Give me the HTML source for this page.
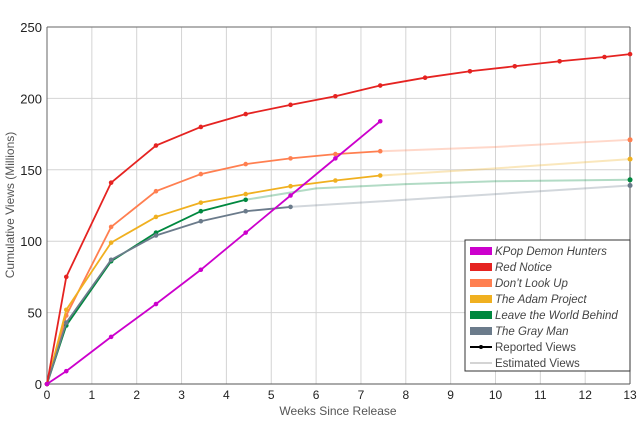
<!DOCTYPE html>
<html><head><meta charset="utf-8"><style>
body{margin:0;background:#fff;width:640px;height:420px;overflow:hidden}
svg{font-family:"Liberation Sans",sans-serif}
</style></head><body>
<svg id="s" width="640" height="420" xmlns="http://www.w3.org/2000/svg"></svg>
<script>
const s=document.getElementById('s');
const X=v=>47+v*44.85, Y=v=>384-v*1.428;
let h='';
for(let i=1;i<=12;i++)h+=`<line x1="${X(i)}" y1="27" x2="${X(i)}" y2="384" stroke="#d4d4d4" stroke-width="1"/>`;
for(let v=50;v<=200;v+=50)h+=`<line x1="47" y1="${Y(v)}" x2="630" y2="${Y(v)}" stroke="#d4d4d4" stroke-width="1"/>`;
h+=`<line x1="47" y1="27" x2="630" y2="27" stroke="#666"/><line x1="47" y1="27" x2="47" y2="384" stroke="#666"/><line x1="630" y1="27" x2="630" y2="384" stroke="#555"/><line x1="47" y1="384" x2="630" y2="384" stroke="#555"/>`;
for(let v=0;v<=250;v+=50)h+=`<text x="42" y="${Y(v)+5}" font-size="13" text-anchor="end" fill="#222">${v}</text>`;
for(let i=0;i<=13;i++)h+=`<text x="${X(i)}" y="399" font-size="12" text-anchor="middle" fill="#222">${i}</text>`;
h+=`<text x="338" y="415" font-size="12" text-anchor="middle" fill="#555">Weeks Since Release</text>`;
h+=`<text transform="translate(14,205) rotate(-90)" font-size="12" text-anchor="middle" fill="#555">Cumulative Views (Millions)</text>`;
const wk=[0,.43,1.43,2.43,3.43,4.43,5.43,6.43,7.43,8.43,9.43,10.43,11.43,12.43,13];
const S=[
['#a00000',0,[]],
['#ff7f50','#ff7f50',[0,48,110,135,147,154,158,161,163],[[10,166],[13,171]]],
['#f0b020','#f0b020',[0,52,99,117,127,133,138.5,142.5,146],[[10,151],[13,157.5]]],
['#00883f','#00883f',[0,41,86,106,121,129],[[6,137],[8,140],[10,142],[13,143]]],
['#6b7b8b','#6b7b8b',[0,43,87,104,114,121,124],[[8,129],[10,133],[13,139]]],
['#e52321','#e52321',[0,75,141,167,180,189,195.5,201.5,209,214.5,219,222.5,226,229,231]],
['#cc00cc','#cc00cc',[0,9,33,56,80,106,132,158,184]],
];
S.slice(1).forEach(([c,_,d,e])=>{
 if(e){let last=d.length-1;let p=[[wk[last],d[last]],...e].map(q=>X(q[0])+','+Y(q[1])).join(' ');
 h+=`<polyline points="${p}" fill="none" stroke="${c}" stroke-opacity="0.3" stroke-width="2"/>`;
 h+=`<circle cx="${X(13)}" cy="${Y(e[e.length-1][1])}" r="2.5" fill="${c}"/>`;}
});
S.slice(1).forEach(([c,_,d])=>{
 h+=`<polyline points="${d.map((v,i)=>X(wk[i])+','+Y(v)).join(' ')}" fill="none" stroke="${c}" stroke-width="1.8"/>`;
 d.forEach((v,i)=>h+=`<circle cx="${X(wk[i])}" cy="${Y(v)}" r="2.3" fill="${c}"/>`);
});
h+=`<rect x="465" y="240" width="165" height="131" fill="#fff" stroke="#333"/>`;
const L=[['#cc00cc','KPop Demon Hunters'],['#e52321','Red Notice'],['#ff7f50','Don’t Look Up'],['#f0b020','The Adam Project'],['#00883f','Leave the World Behind'],['#6b7b8b','The Gray Man']];
L.forEach(([c,t],i)=>{let y=251+i*16;h+=`<rect x="470" y="${y-4}" width="22" height="8" fill="${c}"/><text x="495" y="${y+4}" font-size="11.5" font-style="italic" fill="#444">${t}</text>`;});
h+=`<line x1="470" y1="347" x2="492" y2="347" stroke="#000" stroke-width="2"/><circle cx="481" cy="347" r="2" fill="#000"/><text x="495" y="351" font-size="11.5" fill="#444">Reported Views</text>`;
h+=`<line x1="470" y1="363" x2="492" y2="363" stroke="#aaa" stroke-width="1"/><text x="495" y="367" font-size="11.5" fill="#444">Estimated Views</text>`;
s.innerHTML=h;
</script>
</body></html>
